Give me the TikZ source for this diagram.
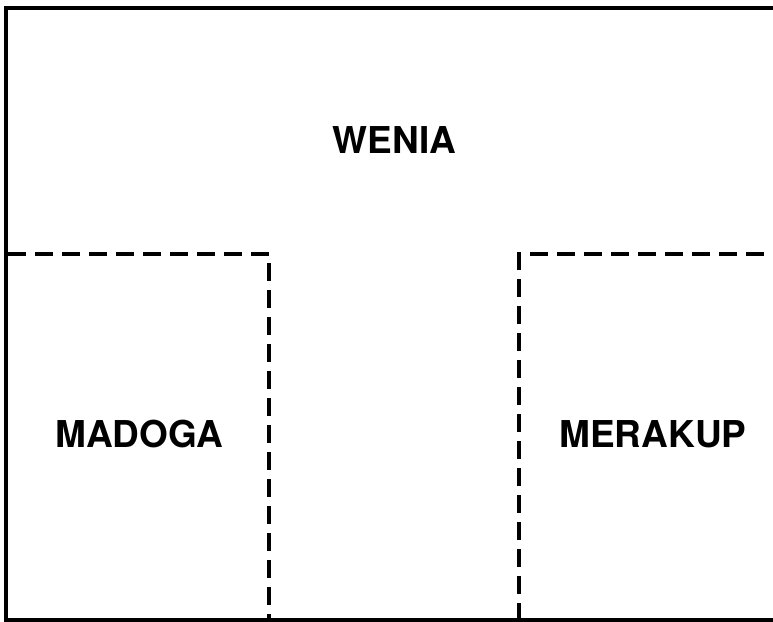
\documentclass[tikz,border=0pt]{standalone}
\usepackage{fontspec}
\setsansfont{TeX Gyre Heros}
\usepackage{tikz}
\usetikzlibrary{positioning}
\tikzset{
  regionlabel/.style={font=\sffamily\bfseries\fontsize{37}{40}\selectfont, inner sep=0pt},
  borderline/.style={line width=4.5pt},
  dashline/.style={line width=3.5pt, dash pattern=on 18pt off 9pt}
}
\begin{document}
\begin{tikzpicture}[x=1pt,y=-1pt]
		%% picture size, same as the reference
		\useasboundingbox (0,0) rectangle (773,621);
		%% outer frame, the right side runs off the page
		\begin{scope}
			\clip (0,0) rectangle (773,621);
			\draw[borderline] (6,8) rectangle (790,620);
		\end{scope}
		%% the two dashed areas at the bottom
		\draw[dashline] (8,254) -- (269,254) -- (269,621);
		\draw[dashline] (519,621) -- (519,254) -- (773,254);
		%% names of the areas
		\node[regionlabel] (wenia) at (394.5,140) {WENIA};
		\node[regionlabel] (madoga) at (139.5,434.5) {MADOGA};
		\node[regionlabel] (merakup) at (653,434.5) {MERAKUP};
	\end{tikzpicture}
\end{document}
